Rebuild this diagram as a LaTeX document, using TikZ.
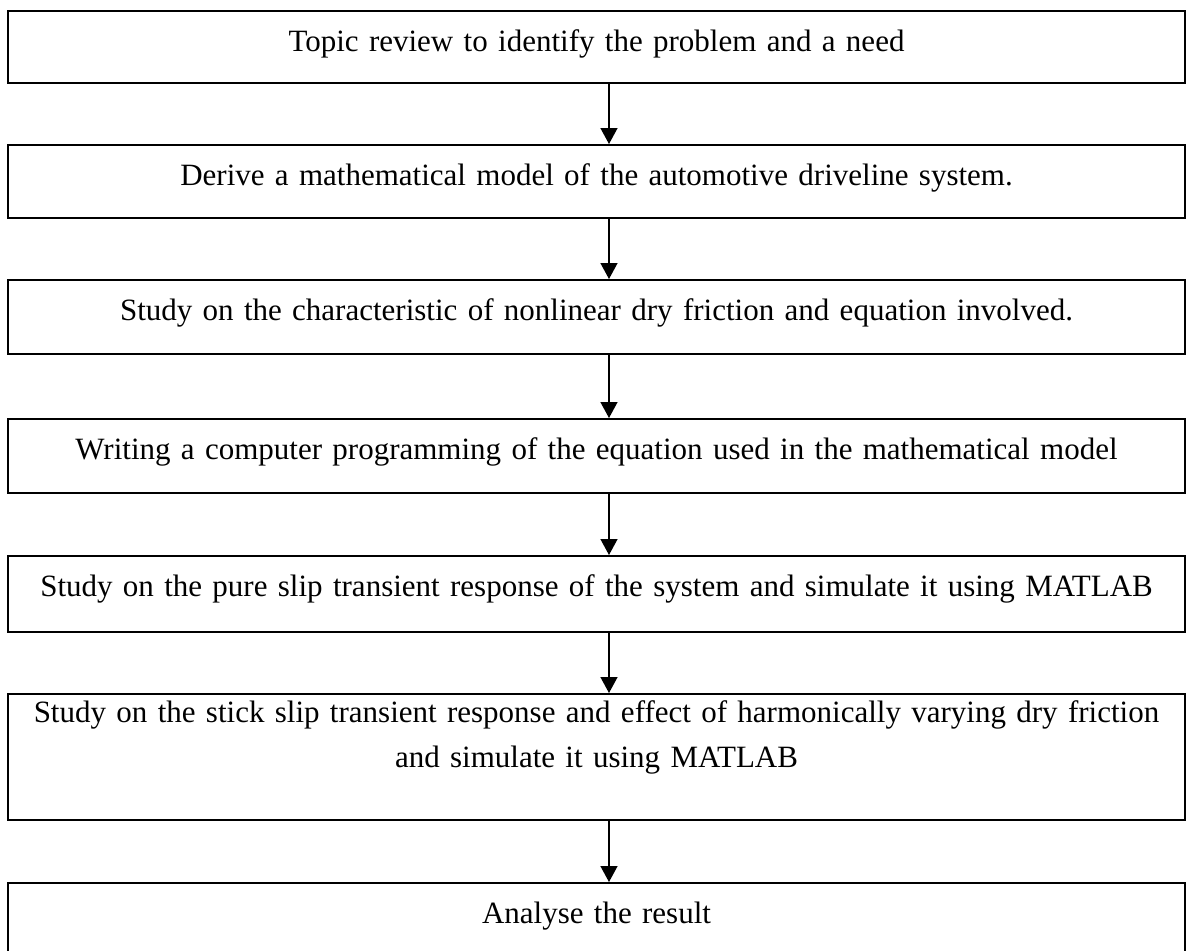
\documentclass[tikz,border=0pt]{standalone}
\usepackage{fontspec}
\setmainfont{Liberation Serif}
\usetikzlibrary{arrows.meta}

\tikzset{
  stepbox/.style={draw, line width=1pt, anchor=north, minimum width=588.5pt,
    text width=588.5pt, align=center, inner xsep=0pt, inner ysep=0pt,
    text height=20pt, text depth=17pt, font=\fontsize{15.5}{20.5}\selectfont},
  flow/.style={-{Triangle[width=8.5pt,length=8pt]}, line width=0.7pt}
}

\begin{document}
\begin{tikzpicture}[x=0.5pt,y=-0.5pt]
     \useasboundingbox (0,0) rectangle (1191,950);
     \coordinate (ax) at (609,0);
     % the steps
     \node[stepbox, text depth=16pt] (topic) at (596.5,10) {Topic review to identify the problem and a need};
     \node[stepbox, text depth=16.5pt] (model) at (596.5,144) {Derive a mathematical model of the automotive driveline system.};
     \node[stepbox] (friction) at (596.5,279) {Study on the characteristic of nonlinear dry friction and equation involved.};
     \node[stepbox] (program) at (596.5,418) {Writing a computer programming of the equation used in the mathematical model};
     \node[stepbox, text depth=18pt] (pureslip) at (596.5,555) {Study on the pure slip transient response of the system and simulate it using MATLAB};
     \node[stepbox, text height=14pt, text depth=49pt] (stickslip) at (596.5,693) {Study on the stick slip transient response and effect of harmonically varying dry friction\\[2pt]and simulate it using MATLAB};
     \node[stepbox] (result) at (596.5,882) {Analyse the result};
     % arrows between them
     \draw[flow] (topic.south -| ax) -- (model.north -| ax);
     \draw[flow] (model.south -| ax) -- (friction.north -| ax);
     \draw[flow] (friction.south -| ax) -- (program.north -| ax);
     \draw[flow] (program.south -| ax) -- (pureslip.north -| ax);
     \draw[flow] (pureslip.south -| ax) -- (stickslip.north -| ax);
     \draw[flow] (stickslip.south -| ax) -- (result.north -| ax);
\end{tikzpicture}
\end{document}
